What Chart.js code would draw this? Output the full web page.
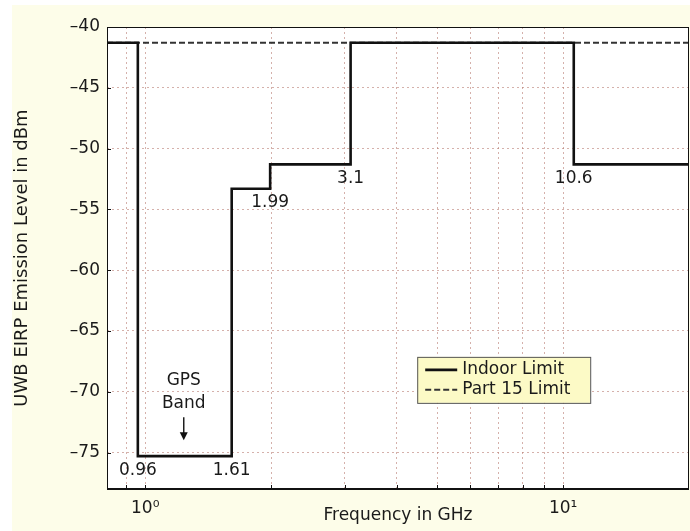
<!DOCTYPE html>
<html>
<head>
<meta charset="utf-8">
<script src="https://cdn.jsdelivr.net/npm/chart.js@4.4.1/dist/chart.umd.min.js"></script>
<style>
  body { margin: 0; background: #fff; }
  #wrap { position: absolute; left: 12px; top: 5px; width: 678px; height: 526px; background: #fdfde9; }
</style>
</head>
<body>
<div id="wrap"><canvas id="myChart"></canvas></div>
<script>
// step edges of the indoor mask (GHz) and the level that starts at each edge (dBm)
var freqGHz = [0.81, 0.96, 1.61, 1.99, 3.1, 10.6, 20];
var indoorLimit = [-41.3, -75.3, -53.3, -51.3, -41.3, -51.3, -51.3];
var part15Freq = [0.81, 20];
var part15Limit = [-41.3, -41.3];

var xGrid = [0.9, 1, 2, 3, 4, 5, 6, 7, 8, 9, 10];
var xLabelValues = [1, 10];
var xLabelText = ['10\u2070', '10\u00b9'];
var yTicks = [-75, -70, -65, -60, -55, -50, -45, -40];

var gpsBand = [0.96, 1.61];

var FONT = '"DejaVu Sans", sans-serif';
var textColor = '#1a1a1a';
var gridColor = 'rgba(185,125,115,0.6)';

function pts(xs, ys) {
  return xs.map(function (v, i) { return { x: v, y: ys[i] }; });
}

var frameAndNotes = {
  id: 'frameAndNotes',
  beforeDraw: function (chart) {
    var a = chart.chartArea, ctx = chart.ctx;
    ctx.save();
    ctx.fillStyle = '#fff';
    ctx.fillRect(a.left, a.top, a.right - a.left, a.bottom - a.top);
    ctx.restore();
  },
  afterDatasetsDraw: function (chart) {
    var ctx = chart.ctx, a = chart.chartArea;
    var x = chart.scales.x, y = chart.scales.y;
    ctx.save();

    // frame
    ctx.strokeStyle = '#111';
    ctx.lineWidth = 1;
    ctx.strokeRect(a.left + 0.5, a.top + 0.5, a.right - a.left - 1, a.bottom - a.top);
    ctx.lineWidth = 2;
    ctx.beginPath();
    ctx.moveTo(a.left, a.bottom);
    ctx.lineTo(a.right, a.bottom);
    ctx.stroke();

    // small inward ticks
    ctx.lineWidth = 1;
    ctx.beginPath();
    xGrid.forEach(function (v) {
      var px = Math.round(x.getPixelForValue(v)) + 0.5;
      ctx.moveTo(px, a.bottom);
      ctx.lineTo(px, a.bottom - 4);
    });
    yTicks.forEach(function (v) {
      var py = Math.round(y.getPixelForValue(v)) + 0.5;
      ctx.moveTo(a.left, py);
      ctx.lineTo(a.left + 4, py);
    });
    ctx.stroke();

    // break frequency labels under each step
    ctx.font = '17px ' + FONT;
    ctx.fillStyle = textColor;
    ctx.textAlign = 'center';
    ctx.textBaseline = 'middle';
    for (var i = 1; i < freqGHz.length - 1; i++) {
      var low = Math.min(indoorLimit[i - 1], indoorLimit[i]);
      ctx.fillText(String(freqGHz[i]), x.getPixelForValue(freqGHz[i]), y.getPixelForValue(low) + 14);
    }

    // GPS band note with arrow
    var gx = x.getPixelForValue(Math.sqrt(gpsBand[0] * gpsBand[1])) - 1;
    ctx.fillText('GPS', gx, y.getPixelForValue(-69.05));
    ctx.fillText('Band', gx, y.getPixelForValue(-70.95));
    var ay0 = y.getPixelForValue(-72.1), ay1 = y.getPixelForValue(-74.0);
    ctx.strokeStyle = '#111';
    ctx.lineWidth = 1.4;
    ctx.beginPath();
    ctx.moveTo(gx, ay0);
    ctx.lineTo(gx, ay1 - 7);
    ctx.stroke();
    ctx.fillStyle = '#111';
    ctx.beginPath();
    ctx.moveTo(gx - 4, ay1 - 8);
    ctx.lineTo(gx + 4, ay1 - 8);
    ctx.lineTo(gx, ay1);
    ctx.closePath();
    ctx.fill();

    // legend box
    var lx = a.left + (a.right - a.left) * 0.533;
    var ly = a.top + (a.bottom - a.top) * 0.714;
    var lw = 173, lh = 46;
    ctx.fillStyle = '#fcfac6';
    ctx.fillRect(lx, ly, lw, lh);
    ctx.strokeStyle = '#555';
    ctx.lineWidth = 1;
    ctx.strokeRect(lx + 0.5, ly + 0.5, lw, lh);
    chart.data.datasets.forEach(function (ds, k) {
      var ry = ly + 13 + k * 20;
      ctx.strokeStyle = ds.borderColor;
      ctx.lineWidth = ds.borderWidth;
      ctx.setLineDash(ds.borderDash || []);
      ctx.beginPath();
      ctx.moveTo(lx + 8, ry);
      ctx.lineTo(lx + 40, ry);
      ctx.stroke();
      ctx.setLineDash([]);
      ctx.fillStyle = textColor;
      ctx.textAlign = 'left';
      ctx.fillText(ds.label, lx + 45, ry);
    });

    ctx.restore();
  }
};

new Chart('myChart', {
  type: 'line',
  data: {
    datasets: [{
      label: 'Indoor Limit',
      data: pts(freqGHz, indoorLimit),
      stepped: true,
      borderColor: '#111',
      borderWidth: 2.6,
      pointRadius: 0,
      order: 0
    }, {
      label: 'Part 15 Limit',
      data: pts(part15Freq, part15Limit),
      borderColor: '#333',
      borderWidth: 2,
      borderDash: [6, 3],
      pointRadius: 0,
      order: 1
    }]
  },
  options: {
    responsive: true,
    maintainAspectRatio: false,
    animation: false,
    layout: { padding: { top: 22, right: 1, left: 0, bottom: 0 } },
    plugins: { legend: { display: false }, tooltip: { enabled: false } },
    scales: {
      x: {
        type: 'logarithmic',
        min: 0.81,
        max: 20,
        afterBuildTicks: function (s) { s.ticks = xGrid.map(function (v) { return { value: v }; }); },
        afterFit: function (s) { s.height = 42; },
        grid: { color: gridColor, drawTicks: false },
        border: { display: false, dash: [2, 3] },
        ticks: {
          autoSkip: false,
          maxRotation: 0,
          padding: 9,
          color: textColor,
          font: { family: FONT, size: 17 },
          callback: function (v) {
            var k = xLabelValues.indexOf(v);
            return k < 0 ? '' : xLabelText[k];
          }
        },
        title: {
          display: true,
          text: 'Frequency in GHz',
          color: textColor,
          font: { family: FONT, size: 17 },
          padding: { top: 0, bottom: 5 }
        }
      },
      y: {
        min: -78,
        max: -40,
        afterBuildTicks: function (s) { s.ticks = yTicks.map(function (v) { return { value: v }; }); },
        afterFit: function (s) { s.width = 95; },
        grid: { color: gridColor, drawTicks: false },
        border: { display: false, dash: [2, 3] },
        ticks: {
          padding: 7,
          color: textColor,
          font: { family: FONT, size: 17 },
          callback: function (v) { return String(v).replace('-', '\u2013'); }
        },
        title: {
          display: true,
          text: 'UWB EIRP Emission Level in dBm',
          color: textColor,
          font: { family: FONT, size: 18 },
          padding: { top: 0, bottom: 0 }
        }
      }
    }
  },
  plugins: [frameAndNotes]
});
</script>
</body>
</html>
